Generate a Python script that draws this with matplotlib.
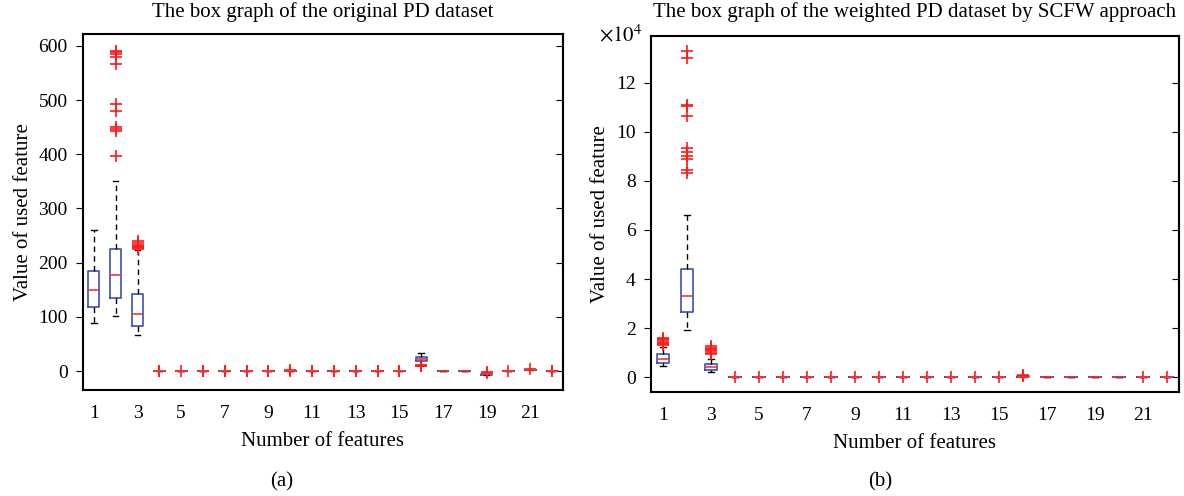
import numpy as np
import matplotlib
matplotlib.use('Agg')
import matplotlib.pyplot as plt

plt.rcParams['font.family'] = 'Liberation Serif'
plt.rcParams['mathtext.fontset'] = 'stix'

features = list(range(1, 23))

# left panel: original PD dataset
left_med = [149, 177, 105, 0.005, 0.00003, 0.0025, 0.0027, 0.0075, 0.023, 0.22, 0.013,
            0.015, 0.022, 0.038, 0.012, 22.1, 0.50, 0.72, -5.72, 0.22, 2.36, 0.19]
left_q1 = [118, 135, 84, 0.0035, 0.00002, 0.0017, 0.0019, 0.005, 0.017, 0.15, 0.009,
           0.010, 0.013, 0.028, 0.006, 19.2, 0.42, 0.67, -6.45, 0.17, 2.10, 0.14]
left_q3 = [184, 225, 142, 0.0074, 0.00006, 0.0038, 0.004, 0.011, 0.038, 0.35, 0.020,
           0.023, 0.029, 0.061, 0.026, 25.1, 0.59, 0.79, -5.05, 0.28, 2.64, 0.25]
left_lo = [89, 102, 66, 0.0017, 0.00001, 0.0007, 0.0009, 0.002, 0.0095, 0.085, 0.0045,
           0.0057, 0.0072, 0.014, 0.0007, 12.0, 0.26, 0.57, -7.96, 0.006, 1.42, 0.04]
left_hi = [260, 350, 223, 0.013, 0.0001, 0.0068, 0.0072, 0.020, 0.068, 0.63, 0.037,
           0.041, 0.052, 0.11, 0.055, 33.0, 0.69, 0.83, -3.3, 0.45, 3.40, 0.42]
left_fliers = [[], [397, 443, 447, 450, 480, 492, 567, 580, 585, 588, 591],
               [225, 227, 229, 231, 233, 236, 240],
               [0.02, 0.033], [0.0002], [0.015, 0.021], [0.014, 0.019], [0.045, 0.064],
               [0.09, 0.119], [0.9, 1.30], [0.045, 0.056], [0.06, 0.079], [0.08, 0.137],
               [0.14, 0.169], [0.16, 0.31], [8.4, 9.3, 10.5], [], [],
               [-2.9, -2.4], [0.45], [3.67], [0.5, 0.53]]

# right panel: weighted PD dataset (x 1e4)
right_med = [0.73, 3.31, 0.41, 0.001, 0.0, 0.0005, 0.0005, 0.0015, 0.004, 0.004, 0.002,
             0.002, 0.003, 0.006, 0.002, 0.03, 0.0, 0.0, 0.0, 0.0, 0.002, 0.002]
right_q1 = [0.58, 2.65, 0.30, 0.0007, 0.0, 0.0003, 0.0003, 0.001, 0.003, 0.003, 0.0015,
            0.0015, 0.002, 0.004, 0.001, 0.025, 0.0, 0.0, 0.0, 0.0, 0.0015, 0.0015]
right_q3 = [0.93, 4.39, 0.54, 0.0015, 0.0, 0.0008, 0.0008, 0.002, 0.006, 0.006, 0.003,
            0.003, 0.004, 0.009, 0.004, 0.035, 0.0, 0.0, 0.0, 0.0, 0.0025, 0.0025]
right_lo = [0.44, 1.93, 0.22, 0.0003, 0.0, 0.0001, 0.0001, 0.0004, 0.0015, 0.0015, 0.0007,
            0.0008, 0.001, 0.002, 0.0001, 0.015, 0.0, 0.0, 0.0, 0.0, 0.001, 0.0004]
right_hi = [1.25, 6.6, 0.75, 0.0027, 0.0, 0.0014, 0.0015, 0.004, 0.011, 0.011, 0.006,
            0.006, 0.008, 0.016, 0.009, 0.05, 0.0, 0.0, 0.0, 0.0, 0.0035, 0.004]
right_fliers = [[1.30, 1.35, 1.40, 1.45, 1.50, 1.55, 1.60],
                [8.33, 8.46, 8.88, 9.02, 9.18, 9.32, 10.64, 11.05, 11.1, 13.02, 13.27],
                [0.95, 1.0, 1.05, 1.1, 1.15, 1.2, 1.29],
                [0.004], [0.00002], [0.002], [0.002], [0.006], [0.02], [0.02], [0.01],
                [0.01], [0.015], [0.03], [0.02], [0.07, 0.08], [], [], [], [],
                [0.005], [0.006]]

left_yticks = [0, 100, 200, 300, 400, 500, 600]
right_yticks = [0, 2, 4, 6, 8, 10, 12]
xticks = list(range(1, 23, 2))

box_col = '#3a52b4'
med_col = '#f03a3a'
flier_col = '#ff1a1a'


def make_stats(med, q1, q3, lo, hi, fl):
    return [dict(med=m, q1=a, q3=b, whislo=l, whishi=h, fliers=f)
            for m, a, b, l, h, f in zip(med, q1, q3, lo, hi, fl)]


def draw(ax, stats, yticks):
    ax.bxp(stats, positions=features, widths=0.5, capwidths=0.25, patch_artist=False,
           boxprops=dict(color=box_col, linewidth=1.2),
           medianprops=dict(color=med_col, linewidth=1.2),
           whiskerprops=dict(color='black', linestyle=(0, (4, 3)), linewidth=1),
           capprops=dict(color='black', linewidth=1),
           flierprops=dict(marker='+', markeredgecolor=flier_col, markersize=8,
                           markeredgewidth=1.2, linestyle='none'))
    ax.set_xlim(0.5, 22.5)
    ax.set_xticks(xticks)
    ax.set_xticklabels([str(x) for x in xticks])
    ax.set_yticks(yticks)
    ax.tick_params(axis='x', length=0, labelsize=14, pad=11)
    ax.tick_params(axis='y', direction='out', length=5, labelsize=14, pad=6)
    # inward ticks on the right spine
    tw = ax.secondary_yaxis('right')
    tw.set_yticks(yticks)
    tw.tick_params(direction='in', length=5, labelright=False)
    for s in list(ax.spines.values()) + list(tw.spines.values()):
        s.set_linewidth(1.5)
    ax.set_xlabel('Number of features', fontsize=15, labelpad=7)
    ax.set_ylabel('Value of used feature', fontsize=15)


fig = plt.figure(figsize=(11.84, 4.96), dpi=100)
ax1 = fig.add_axes([0.0701, 0.2137, 0.4054, 0.7177])
ax2 = fig.add_axes([0.5498, 0.2097, 0.4459, 0.7177])

ax1.set_ylim(-35, 622)
draw(ax1, make_stats(left_med, left_q1, left_q3, left_lo, left_hi, left_fliers), left_yticks)
ax1.set_title('The box graph of the original PD dataset', fontsize=15, pad=12)

ax2.set_ylim(-0.6, 13.9)
draw(ax2, make_stats(right_med, right_q1, right_q3, right_lo, right_hi, right_fliers), right_yticks)
ax2.set_title('The box graph of the weighted PD dataset by SCFW approach', fontsize=15, pad=14)
ax2.text(-0.098, 0.985, r'$\times 10^4$', transform=ax2.transAxes, fontsize=15,
         ha='left', va='baseline')

fig.text(0.238, 0.02, '(a)', fontsize=15, ha='center')
fig.text(0.743, 0.02, '(b)', fontsize=15, ha='center')

fig.savefig('out.png', dpi=100)
